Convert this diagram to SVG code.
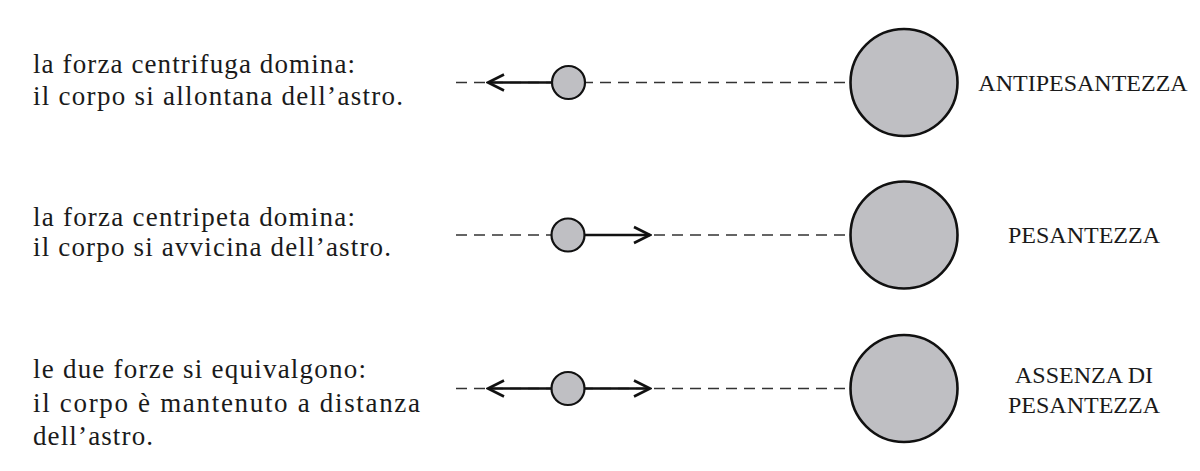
<svg xmlns="http://www.w3.org/2000/svg" width="1200" height="471" viewBox="0 0 1200 471">
<defs>
<style>
.txt{font-family:"Liberation Serif","DejaVu Serif",serif;font-size:27px;fill:#1a1a1a}
.lbl{font-family:"Liberation Serif","DejaVu Serif",serif;font-size:24px;fill:#1a1a1a;text-anchor:middle}
.dash{stroke:#333;stroke-width:1.3;stroke-dasharray:11 7;fill:none}
.force{stroke:#111;stroke-width:2.6;fill:none}
.body{fill:#bfbfc3;stroke:#111;stroke-width:2.2}
.star{fill:#bfbfc3;stroke:#111;stroke-width:2.6}
</style>
<marker id="arr" viewBox="0 0 20 20" refX="18" refY="10" markerWidth="20" markerHeight="20" markerUnits="userSpaceOnUse" orient="auto">
<path d="M2 2 L18 10 L2 18" fill="none" stroke="#111" stroke-width="2.6"/>
</marker>
</defs>
<rect width="1200" height="471" fill="#fff"/>
<g id="connectors">
<line class="dash" x1="456" y1="82.5" x2="850" y2="82.5"/>
<line class="dash" x1="456" y1="235" x2="850" y2="235"/>
<line class="dash" x1="456" y1="388.5" x2="850" y2="388.5"/>
<line class="force" x1="552" y1="82.5" x2="488" y2="82.5" marker-end="url(#arr)"/>
<line class="force" x1="585" y1="235" x2="650" y2="235" marker-end="url(#arr)"/>
<line class="force" x1="552" y1="388.5" x2="488" y2="388.5" marker-end="url(#arr)"/>
<line class="force" x1="585" y1="388.5" x2="650" y2="388.5" marker-end="url(#arr)"/>
</g>
<g id="row1">
<text class="txt" x="33" y="73" textLength="322" lengthAdjust="spacing">la forza centrifuga domina:</text>
<text class="txt" x="33" y="105" textLength="370" lengthAdjust="spacing">il corpo si allontana dell’astro.</text>
<circle class="body" cx="568.5" cy="82.5" r="16.5"/>
<circle class="star" cx="904" cy="82.5" r="53.5"/>
<text class="lbl" x="1083" y="91">ANTIPESANTEZZA</text>
</g>
<g id="row2">
<text class="txt" x="33" y="226" textLength="322" lengthAdjust="spacing">la forza centripeta domina:</text>
<text class="txt" x="33" y="256" textLength="358" lengthAdjust="spacing">il corpo si avvicina dell’astro.</text>
<circle class="body" cx="568" cy="235" r="16.5"/>
<circle class="star" cx="904" cy="235" r="53.5"/>
<text class="lbl" x="1084" y="243">PESANTEZZA</text>
</g>
<g id="row3">
<text class="txt" x="33" y="378" textLength="333" lengthAdjust="spacing">le due forze si equivalgono:</text>
<text class="txt" x="33" y="412" textLength="387" lengthAdjust="spacing">il corpo è mantenuto a distanza</text>
<text class="txt" x="33" y="445" textLength="120" lengthAdjust="spacing">dell’astro.</text>
<circle class="body" cx="568" cy="388.5" r="16.5"/>
<circle class="star" cx="904" cy="388.5" r="53.5"/>
<text class="lbl" x="1084" y="383">ASSENZA DI</text>
<text class="lbl" x="1084" y="413">PESANTEZZA</text>
</g>
</svg>
